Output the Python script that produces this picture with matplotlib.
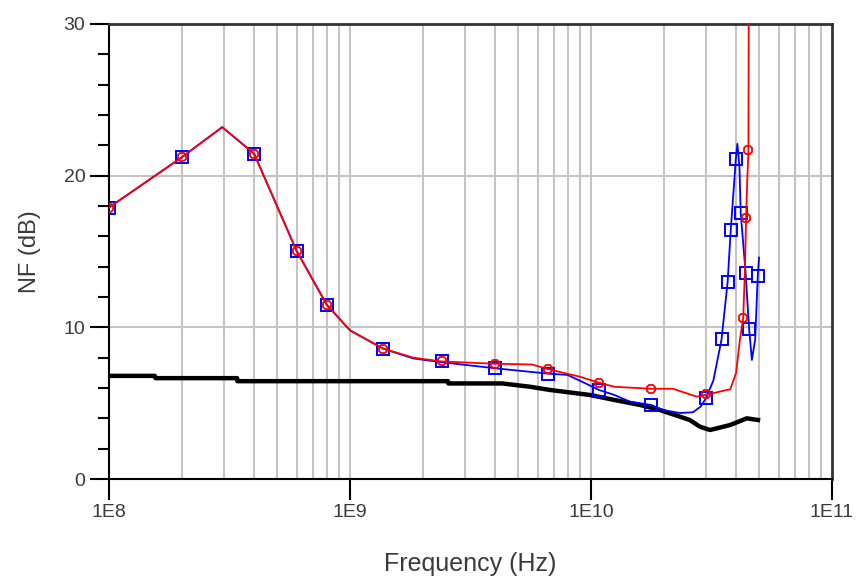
import numpy as np
import matplotlib
matplotlib.use('Agg')
import matplotlib.pyplot as plt
from matplotlib.ticker import FixedLocator, NullLocator

plt.rcParams['font.family'] = ['Liberation Sans', 'DejaVu Sans']

# red trace (line)
red_f = [1e8, 2e8, 2.95e8, 4e8, 6e8, 8e8, 1.0e9, 1.37e9, 1.83e9, 2.4e9, 4e9,
         5.7e9, 6.6e9, 9e9, 1.08e10, 1.25e10, 1.78e10, 2.19e10, 2.74e10, 3e10,
         3.66e10, 3.78e10, 4.0e10, 4.15e10, 4.28e10, 4.35e10, 4.4e10, 4.45e10,
         4.5e10, 4.52e10]
red_v = [17.9, 21.2, 23.2, 21.45, 15.05, 11.5, 9.8, 8.6, 8.0, 7.75, 7.6,
         7.55, 7.25, 6.74, 6.35, 6.08, 5.95, 5.95, 5.43, 5.55,
         5.87, 5.9, 7.0, 9.2, 10.6, 13.6, 17.2, 19.7,
         21.6, 35.0]
# red markers
redm_f = [1e8, 2e8, 4e8, 6e8, 8e8, 1.37e9, 2.4e9, 4e9, 6.6e9, 1.08e10,
          1.78e10, 3e10, 4.28e10, 4.4e10, 4.5e10]
redm_v = [17.9, 21.2, 21.45, 15.05, 11.5, 8.6, 7.75, 7.6, 7.25, 6.35,
          5.95, 5.6, 10.6, 17.2, 21.7]

# blue trace (line)
blue_f = [1e8, 2e8, 2.95e8, 4e8, 6e8, 8e8, 1.0e9, 1.37e9, 1.83e9, 2.4e9, 4e9,
          6.6e9, 8e9, 9.5e9, 1.08e10, 1.25e10, 1.45e10, 1.78e10, 1.99e10,
          2.34e10, 2.65e10, 2.85e10, 3e10, 3.22e10, 3.48e10, 3.69e10, 3.8e10,
          3.99e10, 4.05e10, 4.13e10, 4.18e10, 4.38e10, 4.53e10, 4.65e10,
          4.8e10, 4.92e10, 4.98e10]
blue_v = [17.9, 21.2, 23.2, 21.45, 15.05, 11.5, 9.8, 8.6, 7.95, 7.7, 7.3,
          6.95, 6.86, 6.3, 5.87, 5.54, 5.1, 4.88, 4.55,
          4.35, 4.4, 4.77, 5.32, 6.5, 9.2, 13.0, 16.4,
          21.1, 22.1, 20.6, 17.55, 13.6, 9.9, 7.85,
          9.2, 13.4, 14.6]
bluem_f = [1e8, 2e8, 4e8, 6e8, 8e8, 1.37e9, 2.4e9, 4e9, 6.6e9, 1.08e10,
           1.78e10, 3e10, 3.48e10, 3.69e10, 3.8e10, 3.99e10, 4.18e10,
           4.38e10, 4.53e10, 4.92e10]
bluem_v = [17.9, 21.2, 21.45, 15.05, 11.5, 8.6, 7.75, 7.3, 6.95, 5.87,
           4.88, 5.32, 9.2, 13.0, 16.4, 21.1, 17.55, 13.6, 9.9, 13.4]

# black trace (NFmin)
blk_f = [1e8, 1.55e8, 1.56e8, 3.4e8, 3.41e8, 2.55e9, 2.56e9, 4.28e9, 5.6e9,
         6.76e9, 9.9e9, 1.26e10, 1.6e10, 1.93e10, 2.23e10, 2.57e10, 2.83e10,
         3.12e10, 3.78e10, 4.43e10, 4.93e10]
blk_v = [6.8, 6.8, 6.65, 6.65, 6.45, 6.45, 6.3, 6.3, 6.08,
         5.87, 5.54, 5.2, 4.88, 4.55, 4.22, 3.89, 3.45,
         3.23, 3.56, 4.0, 3.89]

xticks = [1e8, 1e9, 1e10, 1e11]
xlabels = ['1E8', '1E9', '1E10', '1E11']
yticks = [0, 10, 20, 30]

txt = '#3a3a3a'

fig = plt.figure(figsize=(8.58, 5.8), dpi=100)
ax = fig.add_axes([109/858, 101/580, 723/858, 455/580])

ax.set_xscale('log')
ax.set_xlim(1e8, 1e11)
ax.set_ylim(0, 30)

# grid
minor_x = [m * 10.0**e for e in (8, 9, 10) for m in range(1, 10)][1:]
for xv in minor_x:
    ax.axvline(xv, color='#c4c4c4', lw=1.5, zorder=0)
for yv in (10, 20):
    ax.axhline(yv, color='#c4c4c4', lw=1.5, zorder=0)

ax.plot(blk_f, blk_v, color='black', lw=3.2, zorder=2, clip_on=True)
ax.plot(blue_f, blue_v, color='#0000ff', lw=1.3, zorder=3)
ax.plot(bluem_f, bluem_v, ls='none', marker='s', ms=8, mfc='none',
        mec='#0000ff', mew=1.4, zorder=4)
ax.plot(red_f, red_v, color='#ff0000', lw=1.3, zorder=5)
ax.plot(redm_f, redm_v, ls='none', marker='8', ms=7, mfc='none',
        mec='#ff0000', mew=1.3, zorder=6)

ax.xaxis.set_major_locator(FixedLocator(xticks))
ax.xaxis.set_minor_locator(NullLocator())
ax.set_xticklabels(xlabels)
ax.set_yticks(yticks)
ax.yaxis.set_minor_locator(FixedLocator(np.arange(0, 31, 2)))

ax.tick_params(axis='x', which='major', direction='out', length=15, width=1.5,
               pad=3, labelsize=14, labelcolor=txt)
ax.tick_params(axis='y', which='major', direction='out', length=14, width=1.5,
               pad=3, labelsize=14, labelcolor=txt)
ax.tick_params(axis='y', which='minor', direction='out', length=8, width=1.5)

for s in ['left', 'bottom']:
    ax.spines[s].set_color('black')
    ax.spines[s].set_linewidth(1.5)
for s in ['top', 'right']:
    ax.spines[s].set_color('#333333')
    ax.spines[s].set_linewidth(2)

ax.set_xlabel('Frequency (Hz)', fontsize=18, color=txt, labelpad=22)
ax.set_ylabel('NF (dB)', fontsize=17, color=txt, labelpad=16)

fig.savefig('out.png', dpi=100)
